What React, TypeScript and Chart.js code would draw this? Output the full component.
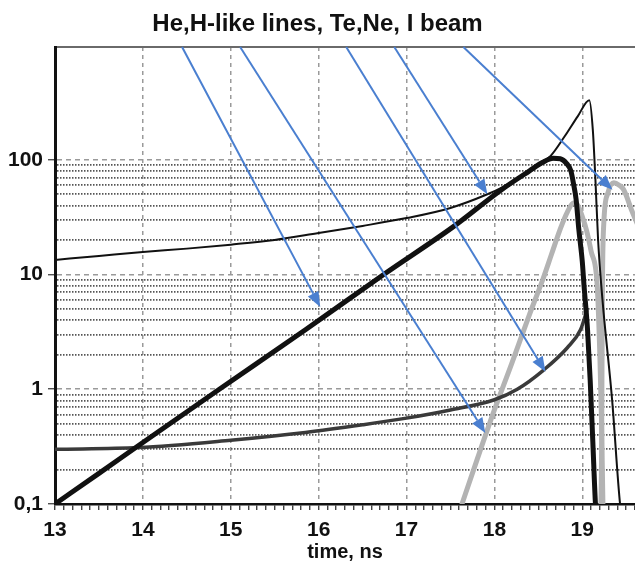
import React, { useEffect, useRef } from "react";
import { Chart, registerables } from "chart.js";

Chart.register(...registerables);

const TITLE = "He,H-like lines, Te,Ne, I beam";
const X_TITLE = "time, ns";
const X_MIN = 13;
const X_MAX = 19.6;
const Y_MIN = 0.1;
const Y_MAX = 960;
const X_LABELS = [13, 14, 15, 16, 17, 18, 19];
const Y_LABELS = [0.1, 1, 10, 100];
const Y_LABEL_TEXT = ["0,1", "1", "10", "100"];

// thin black line
const thinX = [13, 13.5, 14, 14.5, 15, 15.5, 16, 16.5, 17, 17.5, 17.92, 18.1, 18.3, 18.5, 18.64, 18.8, 18.95, 19.08, 19.12, 19.15, 19.18, 19.23, 19.34, 19.43, 19.45];
const thinY = [13.4, 14.5, 15.7, 16.8, 18.2, 20, 23, 26.5, 31, 38, 50, 58, 72, 91, 108, 160, 240, 330, 182, 66, 20, 6, 0.8, 0.1, 0.08];

// thick black line
const thickX = [13, 13.5, 14, 14.87, 15.85, 16.74, 17.53, 18.07, 18.4, 18.55, 18.67, 18.75, 18.82, 18.87, 18.9, 18.93, 18.96, 19.0, 19.02, 19.06, 19.09, 19.12, 19.15, 19.16];
const thickY = [0.1, 0.185, 0.344, 1.0, 3.3, 10, 26, 54, 80, 95, 103, 102, 93, 80, 62, 45, 25, 13, 8, 3.3, 1.2, 0.35, 0.1, 0.08];

// dark gray line
const darkX = [13, 13.95, 15, 15.85, 16.5, 17, 17.5, 18, 18.26, 18.56, 18.83, 18.98, 19.05];
const darkY = [0.3, 0.31, 0.36, 0.42, 0.49, 0.56, 0.66, 0.81, 1.0, 1.47, 2.3, 3.3, 4.8];

// light gray, first peak
const grayAX = [17.6, 17.8, 18.0, 18.2, 18.4, 18.55, 18.65, 18.75, 18.83, 18.9, 18.95, 19.0, 19.05, 19.1, 19.17, 19.2, 19.22, 19.235, 19.245];
const grayAY = [0.085, 0.24, 0.66, 1.7, 4.5, 9, 15, 25, 35, 42, 40, 32, 24, 16, 8, 2, 0.5, 0.1, 0.07];

// light gray, second peak
const grayBX = [19.21, 19.22, 19.225, 19.23, 19.245, 19.29, 19.36, 19.42, 19.47, 19.57, 19.65];
const grayBY = [0.07, 0.3, 2, 9, 28, 51, 63, 60, 55, 35, 25];

// blue arrows: start on the top border, end on a curve
const arrowStartX = [14.446, 15.107, 16.314, 16.861, 17.647];
const arrowEndX = [16.018, 17.897, 18.581, 17.92, 19.344];
const arrowEndY = [5.22, 0.416, 1.42, 50, 54.7];

const FONT = "'Liberation Sans', Arial, sans-serif";
const ARROW_COLOR = "#4a7fd0";

const pts = (xs: number[], ys: number[]) => xs.map((x, i) => ({ x, y: ys[i] }));

const xTickValues: number[] = [];
for (let i = 0; i <= Math.round((X_MAX - X_MIN) * 10); i++) {
  xTickValues.push(Math.round((X_MIN + i * 0.1) * 10) / 10);
}
const yTickValues: number[] = [];
[0.1, 1, 10].forEach((d) => {
  for (let k = 1; k <= 9; k++) yTickValues.push(parseFloat((k * d).toPrecision(3)));
});
yTickValues.push(100, Y_MAX);

const isInt = (v: number) => Math.abs(v - Math.round(v)) < 1e-6;
const isDecade = (v: number) => Y_LABELS.some((d) => Math.abs(v - d) < 1e-9);

const arrowPlugin = {
  id: "arrows",
  afterDatasetsDraw(chart: any) {
    const { ctx, scales } = chart;
    const xs = scales.x;
    const ys = scales.y;
    ctx.save();
    ctx.strokeStyle = ARROW_COLOR;
    ctx.fillStyle = ARROW_COLOR;
    ctx.lineWidth = 2;
    for (let i = 0; i < arrowStartX.length; i++) {
      const x0 = xs.getPixelForValue(arrowStartX[i]);
      const y0 = ys.getPixelForValue(Y_MAX);
      const x1 = xs.getPixelForValue(arrowEndX[i]);
      const y1 = ys.getPixelForValue(arrowEndY[i]);
      const a = Math.atan2(y1 - y0, x1 - x0);
      const L = 15;
      const W = 6;
      const bx = x1 - L * Math.cos(a);
      const by = y1 - L * Math.sin(a);
      ctx.beginPath();
      ctx.moveTo(x0, y0);
      ctx.lineTo(bx, by);
      ctx.stroke();
      ctx.beginPath();
      ctx.moveTo(x1, y1);
      ctx.lineTo(bx + W * Math.sin(a), by - W * Math.cos(a));
      ctx.lineTo(bx - W * Math.sin(a), by + W * Math.cos(a));
      ctx.closePath();
      ctx.fill();
    }
    ctx.restore();
  },
};

export default function App() {
  const ref = useRef<HTMLCanvasElement | null>(null);
  useEffect(() => {
    document.body.style.margin = "0";
    const canvas = ref.current;
    if (!canvas) return;
    const line = (data: any, color: string, width: number) => ({
      data,
      borderColor: color,
      backgroundColor: color,
      borderWidth: width,
      pointRadius: 0,
      pointHoverRadius: 0,
      pointHitRadius: 0,
      fill: false,
      cubicInterpolationMode: "monotone" as const,
      borderJoinStyle: "round" as const,
      borderCapStyle: "round" as const,
    });
    const chart = new Chart(canvas, {
      type: "line",
      data: {
        datasets: [
          line(pts(thickX, thickY), "#111111", 5),
          line(pts(thinX, thinY), "#111111", 2),
          line(pts(darkX, darkY), "#3a3a3a", 3.5),
          line(pts(grayAX, grayAY), "#b3b3b3", 5),
          line(pts(grayBX, grayBY), "#b3b3b3", 5),
        ],
      },
      options: {
        animation: false,
        responsive: false,
        devicePixelRatio: 1,
        layout: { padding: 0, autoPadding: false },
        plugins: {
          legend: { display: false },
          tooltip: { enabled: false },
          title: {
            display: true,
            text: TITLE,
            color: "#111",
            font: { family: FONT, size: 24, weight: "bold" },
            padding: { top: 10, bottom: 8.2 },
          },
        },
        scales: {
          x: {
            type: "linear",
            min: X_MIN,
            max: X_MAX,
            bounds: "data",
            afterBuildTicks: (s: any) => {
              s.ticks = xTickValues.map((v) => ({ value: v }));
            },
            afterFit: (s: any) => {
              s.height = 61;
              s.paddingLeft = 0;
              s.paddingRight = 0;
            },
            ticks: {
              autoSkip: false,
              maxRotation: 0,
              minRotation: 0,
              padding: 8,
              color: "#111",
              font: { family: FONT, size: 21, weight: "bold" },
              callback: (v: any) => {
                const n = Number(v);
                return X_LABELS.some((l) => Math.abs(l - n) < 1e-6) ? String(Math.round(n)) : "";
              },
            },
            grid: {
              color: (c: any) => {
                const v = c.tick ? c.tick.value : 0;
                return isInt(v) && v > X_MIN + 0.01 ? "#9a9a9a" : "rgba(0,0,0,0)";
              },
              lineWidth: 1.5,
              tickColor: "#222",
              tickLength: 6,
              tickWidth: 1.2,
            },
            border: {
              display: true,
              color: "#111",
              width: 2.5,
              dash: (c: any) => (c.tick ? [4, 4] : []),
            },
            title: {
              display: true,
              text: X_TITLE,
              color: "#111",
              font: { family: FONT, size: 20, weight: "bold" },
              padding: { top: 0, bottom: 1 },
            },
          },
          y: {
            type: "logarithmic",
            min: Y_MIN,
            max: Y_MAX,
            bounds: "data",
            afterBuildTicks: (s: any) => {
              s.ticks = yTickValues.map((v) => ({ value: v }));
            },
            afterFit: (s: any) => {
              s.width = 55;
            },
            ticks: {
              autoSkip: false,
              padding: 5,
              color: "#111",
              font: { family: FONT, size: 21, weight: "bold" },
              callback: (v: any) => {
                const n = Number(v);
                const i = Y_LABELS.findIndex((l) => Math.abs(l - n) < 1e-9);
                return i >= 0 ? Y_LABEL_TEXT[i] : "";
              },
            },
            grid: {
              color: (c: any) => {
                const v = c.tick ? c.tick.value : 0;
                if (Math.abs(v - Y_MIN) < 1e-9) return "rgba(0,0,0,0)";
                if (v >= Y_MAX) return "#6a6a6a";
                if (v > 100.5) return "rgba(0,0,0,0)";
                return isDecade(v) ? "#9a9a9a" : "#555555";
              },
              lineWidth: (c: any) => {
                const v = c.tick ? c.tick.value : 0;
                if (v >= Y_MAX) return 2;
                return isDecade(v) ? 1.5 : 1.7;
              },
              tickColor: (c: any) => {
                const v = c.tick ? c.tick.value : 0;
                return isDecade(v) ? "#333" : "rgba(0,0,0,0)";
              },
              tickLength: 7,
              tickWidth: 1.2,
            },
            border: {
              display: true,
              color: "#111",
              width: 3,
              dash: (c: any) => {
                if (!c.tick) return [];
                const v = c.tick.value;
                if (v >= Y_MAX) return [];
                return isDecade(v) ? [5, 4] : [1.5, 1.5];
              },
            },
          },
        },
      },
      plugins: [arrowPlugin],
    });
    return () => chart.destroy();
  }, []);
  return (
    <div style={{ position: "fixed", left: 0, top: 0, background: "#fff" }}>
      <canvas ref={ref} width={635} height={565} style={{ display: "block" }} />
    </div>
  );
}
